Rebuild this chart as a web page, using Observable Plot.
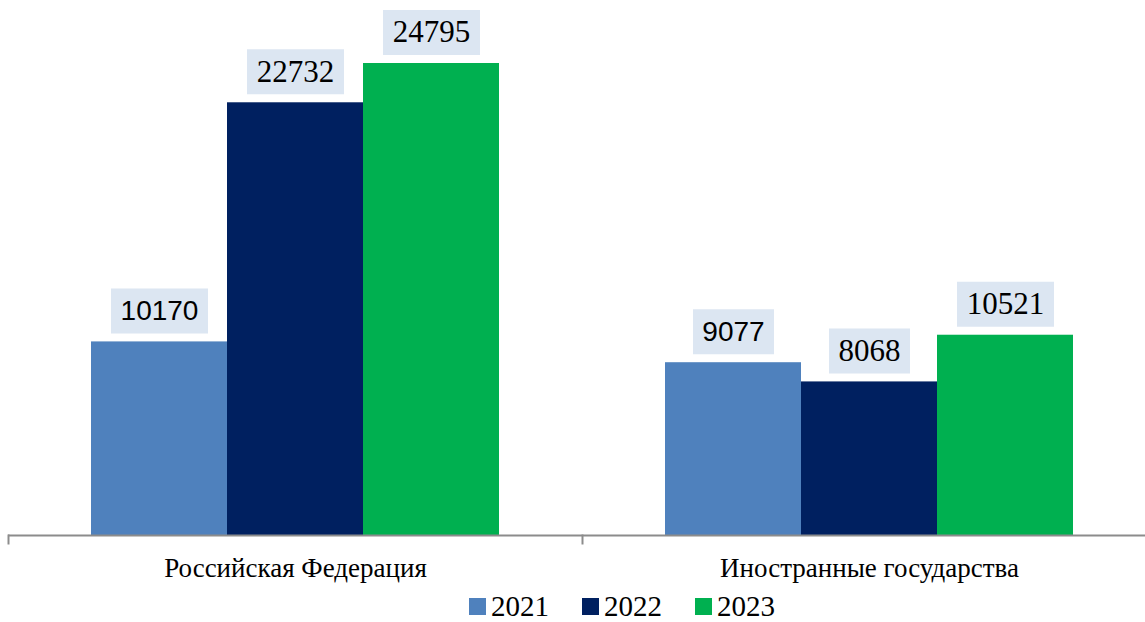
<!DOCTYPE html>
<html><head><meta charset="utf-8">
<script src="https://cdn.jsdelivr.net/npm/d3@7"></script>
<script src="https://cdn.jsdelivr.net/npm/@observablehq/plot@0.6"></script>
<style>
html,body{margin:0;padding:0;background:#fff;overflow:hidden;width:1145px;height:622px;}
#chart{position:absolute;left:0;top:0;}
#legend{position:absolute;left:469px;top:590px;height:32px;display:flex;align-items:center;font-family:"Liberation Serif";font-size:29px;line-height:32px;color:#000;}
#legend .item{display:flex;align-items:center;margin-right:33px;height:32px;}
#legend .sw{width:17px;height:17px;margin-right:5px;}
</style></head>
<body><div id="chart"></div><div id="legend"></div>
<script>
const categories = ["Российская Федерация", "Иностранные государства"];
const years = ["2021", "2022", "2023"];
const colors = ["#4f81bd", "#002060", "#00b050"];
const valuesRF = [10170, 22732, 24795];
const valuesForeign = [9077, 8068, 10521];

const data = [];
years.forEach((y, i) => {
  data.push({cat: categories[0], year: y, value: valuesRF[i]});
  data.push({cat: categories[1], year: y, value: valuesForeign[i]});
});
const SERIF = "Liberation Serif";
const SANS = "Liberation Sans";

// rectangular label-background symbols (sized for 5- and 4-digit labels)
const boxSymbol = (w, h) => ({draw(ctx) { ctx.rect(-w / 2, -h / 2, w, h); }});
const boxStyle = {fx: "cat", x: "year", y: "value", dy: -31, fill: "#dce6f2", stroke: "none"};

const plot = Plot.plot({
  width: 1156,
  height: 590,
  marginLeft: 8,
  marginRight: 0,
  marginTop: 2,
  marginBottom: 55,
  style: {fontFamily: SERIF, background: "transparent", maxWidth: "none"},
  fx: {domain: categories, paddingInner: 0, paddingOuter: 0, label: null},
  x: {domain: years, paddingInner: 0, paddingOuter: 0.605, axis: null},
  y: {domain: [0, 28000], axis: null},
  color: {domain: years, range: colors},
  marks: [
    Plot.barY(data, {fx: "cat", x: "year", y: "value", fill: "year"}),
    Plot.ruleY([0], {stroke: "#8c8c8c", strokeWidth: 2}),
    Plot.frame({anchor: "left", stroke: "#8c8c8c", strokeWidth: 2, insetTop: 533, insetBottom: -8}),
    Plot.dot(data.filter(d => String(d.value).length === 5), {...boxStyle, symbol: boxSymbol(97, 45)}),
    Plot.dot(data.filter(d => String(d.value).length === 4), {...boxStyle, symbol: boxSymbol(81, 45)}),
    Plot.text(data.filter(d => d.year === "2021"), {fx: "cat", x: "year", y: "value", text: d => String(d.value), dy: -31, lineAnchor: "middle", fontSize: 28, fontFamily: SANS, fill: "#000"}),
    Plot.text(data.filter(d => d.year !== "2021"), {fx: "cat", x: "year", y: "value", text: d => String(d.value), dy: -31, lineAnchor: "middle", fontSize: 31, fontFamily: SERIF, fill: "#000"}),
    Plot.axisFx({anchor: "bottom", tickSize: 0, tickPadding: 22, fontSize: 27, fontFamily: SERIF, label: null, lineAnchor: "top", fill: "#000"})
  ]
});
document.getElementById("chart").appendChild(plot);

const legend = document.getElementById("legend");
years.forEach((y, i) => {
  const it = document.createElement("div");
  it.className = "item";
  it.innerHTML = `<div class="sw" style="background:${colors[i]}"></div><span>${y}</span>`;
  legend.appendChild(it);
});
</script></body></html>
